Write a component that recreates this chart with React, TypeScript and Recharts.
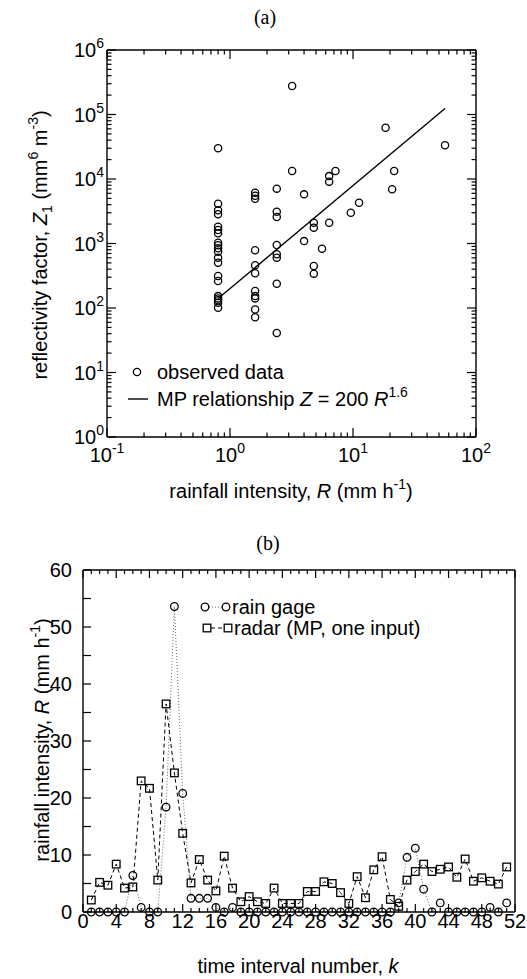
import React from 'react';
import { ScatterChart, Scatter, LineChart, Line, XAxis, YAxis } from 'recharts';

const SANS = '"Liberation Sans", Arial, Helvetica, sans-serif';
const SERIF = '"Liberation Serif", "Times New Roman", serif';

// (a) observed pairs: gauge rainfall R (mm/h) and radar reflectivity Z
const obsR = [
  0.8, 0.8, 0.8, 0.8, 0.8, 0.8, 0.8, 0.8, 0.8, 0.8, 0.8, 0.8, 0.8, 0.8, 0.8, 0.8, 0.8, 0.8, 0.8, 0.8,
  1.6, 1.6, 1.6, 1.6, 1.6, 1.6, 1.6, 1.6, 1.6, 1.6, 1.6,
  2.4, 2.4, 2.4, 2.4, 2.4, 2.4, 2.4, 2.4,
  3.2, 3.2, 4.0, 4.0, 4.8, 4.8, 4.8, 4.8, 5.6, 6.4, 6.4, 6.4, 7.2, 9.6, 11.2, 18.4, 20.8, 21.6, 56,
];
const obsZ = [
  29900, 4140, 3270, 2840, 1820, 1620, 1440, 1030, 937, 843, 747, 603, 505, 313, 262, 153, 141, 132, 121, 101,
  6140, 5510, 4950, 784, 459, 345, 184, 153, 141, 95, 72,
  7080, 3110, 2580, 948, 680, 603, 238, 41,
  277000, 13300, 5780, 1090, 2100, 1760, 448, 341, 832, 11100, 9090, 2100, 13300, 3000, 4290, 62400, 6920, 13300, 33300,
];
// MP relationship end points
const mpR = [0.8, 56];
const mpZ = [140, 124000];

const decadesX = [0.1, 1, 10, 100];
const decadesY = [1, 10, 100, 1000, 10000, 100000, 1000000];
const minorMult = [2, 3, 4, 5, 6, 7, 8, 9];

// (b) time series per interval k
const K = Array.from({ length: 51 }, (_, i) => i + 1);
const gage = [
  0, 0, 0, 0, 0, 6.4, 0.8, 0, 0, 18.4, 53.6, 20.8, 2.4, 2.4, 2.4, 0.8, 0, 0.8, 0, 0,
  0, 0, 0, 0, 0, 0, 0, 0, 0, 0, 0, 0, 0, 0, 0, 0, 0, 1.6, 9.6, 11.2,
  4.0, 0, 1.6, 0, 0, 0, 0, 0, 0.8, 0, 1.6,
];
const radar = [
  2.1, 5.2, 4.7, 8.4, 4.2, 4.4, 23.0, 21.7, 5.6, 36.5, 24.4, 13.8, 5.1, 9.2, 5.6, 3.7, 9.8, 4.2, 1.8, 2.7,
  1.8, 1.5, 4.2, 1.5, 1.5, 1.5, 3.6, 3.6, 5.3, 5.0, 3.4, 1.5, 6.2, 2.5, 7.4, 9.7, 2.2, 1.0, 5.6, 7.1,
  8.4, 7.1, 7.5, 7.9, 6.1, 9.3, 5.4, 6.0, 5.4, 4.9, 7.9,
];
const kTicks = Array.from({ length: 53 }, (_, i) => i);
const yTicksB = [0, 5, 10, 15, 20, 25, 30, 35, 40, 45, 50, 55, 60];

const logTicks = (decades: number[]) => {
  const out: number[] = [];
  decades.forEach((d, i) => {
    out.push(d);
    if (i < decades.length - 1) minorMult.forEach((m) => out.push(d * m));
  });
  return out;
};
const xTicksA = logTicks(decadesX);
const yTicksA = logTicks(decadesY);

const scatterData = obsR.map((r, i) => ({ r, z: obsZ[i] }));
const mpData = mpR.map((r, i) => ({ r, z: mpZ[i] }));
const seriesB = K.map((k, i) => ({ k, gage: gage[i], radar: radar[i] }));

const exp10 = (v: number) => Math.round(Math.log10(v));
const isDecade = (v: number) => Math.abs(Math.log10(v) - exp10(v)) < 1e-6;

const TICK = { stroke: '#000', strokeWidth: 1.2 };
const AXIS = { stroke: '#000', strokeWidth: 1.4 };

// side: which edge of the box the tick sits on; ticks point inward
const makeLogTick = (side: string) => (props: any) => {
  const { x, y, payload } = props;
  const v = payload.value;
  const major = isDecade(v);
  const len = major ? 9 : 4.5;
  const e = exp10(v);
  let line;
  if (side === 'bottom') line = <line x1={x} x2={x} y1={y} y2={y - len} {...TICK} />;
  else if (side === 'top') line = <line x1={x} x2={x} y1={y} y2={y + len} {...TICK} />;
  else if (side === 'left') line = <line x1={x} x2={x + len} y1={y} y2={y} {...TICK} />;
  else line = <line x1={x} x2={x - len} y1={y} y2={y} {...TICK} />;
  return (
    <g>
      {line}
      {major && side === 'bottom' && (
        <text x={x} y={y + 25} textAnchor="middle" fontSize={20} fontFamily={SANS} fill="#000">
          10<tspan dy={-9} fontSize={14}>{e}</tspan>
        </text>
      )}
      {major && side === 'left' && (
        <text x={x - 3} y={y + 7} textAnchor="end" fontSize={20} fontFamily={SANS} fill="#000">
          10<tspan dy={-9} fontSize={14}>{e}</tspan>
        </text>
      )}
    </g>
  );
};

const makeLinTick = (side: string) => (props: any) => {
  const { x, y, payload } = props;
  const v = payload.value;
  let line;
  let label = null;
  if (side === 'bottom' || side === 'top') {
    const len = v % 4 === 0 ? 8 : 4;
    const d = side === 'bottom' ? -len : len;
    line = <line x1={x} x2={x} y1={y} y2={y + d} {...TICK} />;
    if (side === 'bottom' && v % 4 === 0)
      label = (
        <text x={x} y={y + 16} textAnchor="middle" fontSize={20} fontFamily={SANS} fill="#000">
          {v}
        </text>
      );
  } else {
    const d = side === 'left' ? 8 : -8;
    line = <line x1={x} x2={x + d} y1={y} y2={y} {...TICK} />;
    if (side === 'left' && v % 10 === 0)
      label = (
        <text x={x - 11} y={y + 7} textAnchor="end" fontSize={20} fontFamily={SANS} fill="#000">
          {v}
        </text>
      );
  }
  return (
    <g>
      {line}
      {label}
    </g>
  );
};

const OpenCircle = (props: any) => {
  const { cx, cy } = props;
  if (cx == null || cy == null) return <g />;
  return <circle cx={cx} cy={cy} r={3.6} fill="none" stroke="#000" strokeWidth={1.3} />;
};

const gageDot = (props: any) => (
  <circle key={`g${props.index}`} cx={props.cx} cy={props.cy} r={3.8} fill="none" stroke="#000" strokeWidth={1.3} />
);
const radarDot = (props: any) => (
  <rect key={`r${props.index}`} x={props.cx - 3.8} y={props.cy - 3.8} width={7.6} height={7.6} fill="none" stroke="#000" strokeWidth={1.3} />
);

// axes are 1px thick (a 0-sized axis is not drawn), so margins are one less
function PanelA() {
  const common = {
    type: 'number' as const,
    scale: 'log' as const,
    allowDataOverflow: true,
    interval: 0 as const,
    tickSize: 0,
    tickMargin: 0,
    axisLine: AXIS,
  };
  return (
    <ScatterChart width={527} height={510} margin={{ top: 49, right: 50, bottom: 72, left: 106 }}>
      <XAxis xAxisId="b" dataKey="r" domain={[0.1, 100]} ticks={xTicksA} tick={makeLogTick('bottom')} height={1} {...common} />
      <XAxis xAxisId="t" orientation="top" dataKey="r" domain={[0.1, 100]} ticks={xTicksA} tick={makeLogTick('top')} height={1} {...common} />
      <YAxis yAxisId="l" dataKey="z" domain={[1, 1000000]} ticks={yTicksA} tick={makeLogTick('left')} width={1} {...common} />
      <YAxis yAxisId="r" orientation="right" dataKey="z" domain={[1, 1000000]} ticks={yTicksA} tick={makeLogTick('right')} width={1} {...common} />
      <Scatter xAxisId="b" yAxisId="l" data={mpData} line={{ stroke: '#000', strokeWidth: 1.4 }} shape={() => <g />} isAnimationActive={false} />
      <Scatter xAxisId="b" yAxisId="l" data={scatterData} shape={OpenCircle} isAnimationActive={false} />
    </ScatterChart>
  );
}

function PanelB() {
  const common = {
    type: 'number' as const,
    interval: 0 as const,
    tickSize: 0,
    tickMargin: 0,
    axisLine: AXIS,
  };
  return (
    <LineChart width={527} height={469} data={seriesB} margin={{ top: 59, right: 11, bottom: 66, left: 82 }}>
      <XAxis xAxisId="b" dataKey="k" domain={[0, 52]} ticks={kTicks} tick={makeLinTick('bottom')} height={1} {...common} />
      <XAxis xAxisId="t" orientation="top" dataKey="k" domain={[0, 52]} ticks={kTicks} tick={makeLinTick('top')} height={1} {...common} />
      <YAxis yAxisId="l" domain={[0, 60]} ticks={yTicksB} tick={makeLinTick('left')} width={1} {...common} />
      <YAxis yAxisId="r" orientation="right" domain={[0, 60]} ticks={yTicksB} tick={makeLinTick('right')} width={1} {...common} />
      <Line xAxisId="b" yAxisId="l" type="linear" dataKey="gage" stroke="#666" strokeWidth={1} strokeDasharray="1 2" dot={gageDot} isAnimationActive={false} />
      <Line xAxisId="b" yAxisId="l" type="linear" dataKey="radar" stroke="#000" strokeWidth={1} strokeDasharray="4 3" dot={radarDot} isAnimationActive={false} />
    </LineChart>
  );
}

const sup = { fontSize: 14 };

function Overlay() {
  const t = { fontFamily: SANS, fontSize: 20, fill: '#000' };
  return (
    <svg width={527} height={979} style={{ position: 'absolute', left: 0, top: 0, pointerEvents: 'none' }}>
      <text x={265} y={24} textAnchor="middle" fontFamily={SERIF} fontSize={20}>(a)</text>
      <text x={268} y={550} textAnchor="middle" fontFamily={SERIF} fontSize={20}>(b)</text>

      {/* panel (a) legend */}
      <circle cx={137} cy={372} r={3.6} fill="none" stroke="#000" strokeWidth={1.3} />
      <text x={157} y={379} {...t}>observed data</text>
      <line x1={128} x2={148} y1={399} y2={399} stroke="#000" strokeWidth={1.4} />
      <text x={157} y={406} {...t}>
        MP relationship <tspan fontStyle="italic">Z</tspan> = 200 <tspan fontStyle="italic">R</tspan>
        <tspan dy={-9} {...sup}>1.6</tspan>
      </text>

      {/* panel (a) axis titles */}
      <text x={291} y={498} textAnchor="middle" {...t}>
        rainfall intensity, <tspan fontStyle="italic">R</tspan> (mm h<tspan dy={-9} {...sup}>-1</tspan>
        <tspan dy={9}>)</tspan>
      </text>
      <text transform="translate(47,245) rotate(-90)" textAnchor="middle" {...t}>
        reflectivity factor, <tspan fontStyle="italic">Z</tspan><tspan dy={5} {...sup}>1</tspan>
        <tspan dy={-5}> (mm</tspan><tspan dy={-9} {...sup}>6</tspan><tspan dy={9}> m</tspan>
        <tspan dy={-9} {...sup}>-3</tspan><tspan dy={9}>)</tspan>
      </text>

      {/* panel (b) legend */}
      <line x1={209} x2={222} y1={607} y2={607} stroke="#666" strokeWidth={1} strokeDasharray="1 2" />
      <circle cx={205} cy={607} r={3.8} fill="none" stroke="#000" strokeWidth={1.3} />
      <circle cx={226} cy={607} r={3.8} fill="none" stroke="#000" strokeWidth={1.3} />
      <text x={232} y={614} {...t}>rain gage</text>
      <line x1={211} x2={224} y1={628} y2={628} stroke="#000" strokeWidth={1} strokeDasharray="4 3" />
      <rect x={203.2} y={624.2} width={7.6} height={7.6} fill="none" stroke="#000" strokeWidth={1.3} />
      <rect x={224.2} y={624.2} width={7.6} height={7.6} fill="none" stroke="#000" strokeWidth={1.3} />
      <text x={234} y={635} {...t}>radar (MP, one input)</text>

      {/* panel (b) axis titles */}
      <text x={298} y={973} textAnchor="middle" {...t}>
        time interval number, <tspan fontStyle="italic">k</tspan>
      </text>
      <text transform="translate(49,740) rotate(-90)" textAnchor="middle" {...t}>
        rainfall intensity, <tspan fontStyle="italic">R</tspan> (mm h<tspan dy={-9} {...sup}>-1</tspan>
        <tspan dy={9}>)</tspan>
      </text>
    </svg>
  );
}

export default function App() {
  return (
    <div style={{ position: 'absolute', left: 0, top: 0, width: 527, height: 979, background: '#fff' }}>
      <div style={{ position: 'absolute', left: 0, top: 0 }}>
        <PanelA />
      </div>
      <div style={{ position: 'absolute', left: 0, top: 510 }}>
        <PanelB />
      </div>
      <Overlay />
    </div>
  );
}
